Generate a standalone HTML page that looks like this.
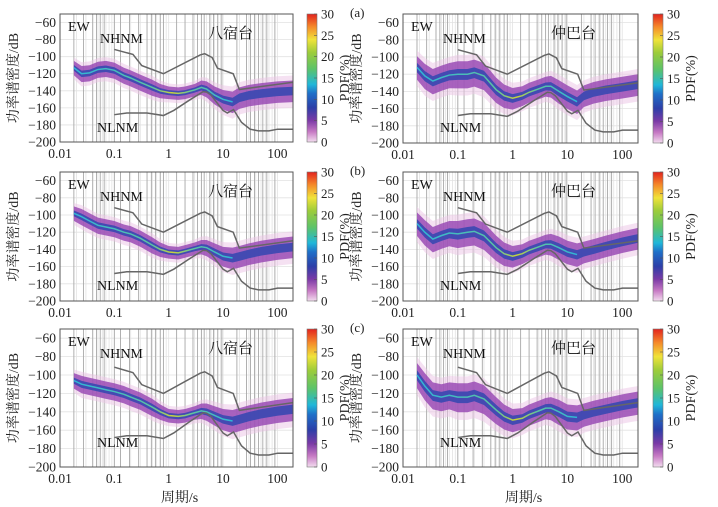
<!DOCTYPE html>
<html><head><meta charset="utf-8">
<style>
html,body{margin:0;padding:0;background:#fff;}
svg{display:block;font-family:"Liberation Serif","Noto Serif CJK SC","Noto Sans CJK SC",serif;}
</style></head>
<body>
<svg id="fig" width="718" height="507" viewBox="0 0 718 507" xmlns="http://www.w3.org/2000/svg">
<defs>
<linearGradient id="cbar" x1="0" y1="1" x2="0" y2="0">
<stop offset="0" stop-color="#f3dcef"/>
<stop offset="0.08" stop-color="#c77ac4"/>
<stop offset="0.17" stop-color="#7a3aa6"/>
<stop offset="0.27" stop-color="#2c3fa8"/>
<stop offset="0.38" stop-color="#1f6fc8"/>
<stop offset="0.45" stop-color="#20b7d9"/>
<stop offset="0.57" stop-color="#5cc36a"/>
<stop offset="0.7" stop-color="#9dcc3a"/>
<stop offset="0.8" stop-color="#f0e33a"/>
<stop offset="0.9" stop-color="#f58a2a"/>
<stop offset="1" stop-color="#e2231e"/>
</linearGradient>
<linearGradient id="modeGrad" x1="0" y1="0" x2="1" y2="0">
<stop offset="0" stop-color="#2fb5d6"/>
<stop offset="0.5" stop-color="#5cc4a0"/>
<stop offset="0.62" stop-color="#c9d23a"/>
<stop offset="0.75" stop-color="#5cc4a0"/>
<stop offset="1" stop-color="#2fb5d6"/>
</linearGradient>
</defs>
</svg>
<script>
// ---- data ----
const periods = [0.018,0.025,0.035,0.05,0.07,0.1,0.15,0.2,0.3,0.5,0.7,1,1.5,2,3,4,5,7,10,15,20,30,50,100,194];
const modeA_L = [-113,-120,-119,-115,-114,-116,-122,-125,-130,-136,-140,-142,-143,-142,-139,-136,-138,-145,-150,-153,-148,-145,-143,-141,-140];
const modeA_R = [-112,-122,-128,-124,-121,-120,-120,-118,-122,-138,-145,-148,-145,-141,-137,-134,-134,-140,-146,-152,-145,-141,-138,-135,-132];
const modeB_L = [-98,-102,-107,-112,-114,-116,-120,-122,-127,-135,-140,-143,-144,-142,-139,-137,-138,-143,-148,-150,-148,-145,-142,-139,-137];
const modeB_R = [-110,-120,-128,-124,-121,-122,-120,-119,-124,-138,-145,-148,-145,-141,-137,-134,-134,-138,-143,-146,-143,-140,-136,-131,-127];
const modeC_L = [-106,-110,-112,-114,-116,-118,-121,-124,-128,-135,-140,-144,-145,-144,-141,-139,-140,-144,-148,-150,-148,-145,-142,-139,-137];
const modeC_R = [-100,-112,-122,-124,-122,-124,-124,-122,-126,-138,-145,-149,-147,-143,-139,-136,-136,-140,-145,-146,-143,-140,-137,-133,-130];
const halfWidthL = [8,9,9,9,9,9,9,9,9,9,8,7,7,7,7,8,9,10,11,12,12,12,12,12,12];
const halfWidthR = [13,14,14,14,14,15,15,15,15,14,13,12,11,11,11,11,12,13,13,13,12,12,12,12,12];
const nlnmP = [0.1,0.17,0.4,0.8,1.24,2.4,4.3,5,6,10,12,15.6,21.9,31.6,45,70,101,154,194];
const nlnmV = [-168,-166,-166,-169,-163,-151,-141,-141.5,-145,-163,-166,-162,-177,-185,-187,-187,-185,-185,-185];
const nhnmP = [0.1,0.22,0.32,0.8,3.8,4.6,6.3,7.9,15.4,20,194];
const nhnmV = [-91.5,-97.4,-110.5,-120,-98,-96.5,-101,-113.5,-120,-138.5,-130];
const yTicks = [-60,-80,-100,-120,-140,-160,-180,-200];
const xTicks = [0.01,0.1,1,10,100];
const xTickLabels = ["0.01","0.1","1","10","100"];
const cbTicks = [0,5,10,15,20,25,30];
const binPeriods = [0.018,0.027,0.04,0.047,0.055,0.065,0.1,0.13,0.19,0.28,0.4,0.48,0.57,0.7,0.8,1.4,2,2.8,3.4,4,4.5,5.7,6.7,8,9.5,18,27,32,38,45,54,64,90];
const panels = [
 {id:'a-left', x0:60,x1:293,y0:14,y1:142,mode:modeA_L,hw:halfWidthL,st:'八宿台',cb:307,lab:'(a)'},
 {id:'a-right',x0:403,x1:638,y0:14,y1:143,mode:modeA_R,hw:halfWidthR,st:'仲巴台',cb:653,lab:null},
 {id:'b-left', x0:60,x1:293,y0:172,y1:301,mode:modeB_L,hw:halfWidthL,st:'八宿台',cb:307,lab:'(b)'},
 {id:'b-right',x0:403,x1:638,y0:172,y1:301,mode:modeB_R,hw:halfWidthR,st:'仲巴台',cb:653,lab:null},
 {id:'c-left', x0:60,x1:293,y0:329,y1:467,mode:modeC_L,hw:halfWidthL,st:'八宿台',cb:307,lab:'(c)'},
 {id:'c-right',x0:403,x1:638,y0:329,y1:467,mode:modeC_R,hw:halfWidthR,st:'仲巴台',cb:653,lab:null}
];
const svg=document.getElementById('fig');
const NS='http://www.w3.org/2000/svg';
function mk(tag,attrs,parent,text){const e=document.createElementNS(NS,tag);for(const k in attrs)e.setAttribute(k,attrs[k]);if(text!==undefined)e.textContent=text;(parent||svg).appendChild(e);return e;}
const LMIN=-2, LMAX=Math.log10(194);
panels.forEach(p=>{
  const sx=v=>p.x0+(Math.log10(v)-LMIN)/(LMAX-LMIN)*(p.x1-p.x0);
  const sy=v=>p.y0+(-50-v)/150*(p.y1-p.y0);
  const g=mk('g',{});
  
  
  for(let d=-2;d<=2;d++)for(let m=1;m<10;m++){const v=m*Math.pow(10,d);if(v>194)continue;
    const l=mk('line',{x1:sx(v),x2:sx(v),y1:p.y0,y2:p.y1,stroke:'#e2e2e2','stroke-width':0.8},g);
    }
  yTicks.forEach(t=>{const l=mk('line',{x1:p.x0,x2:p.x1,y1:sy(t),y2:sy(t),stroke:'#e2e2e2','stroke-width':0.8},g);
    });
  binPeriods.forEach(v=>{const l=mk('line',{x1:sx(v),x2:sx(v),y1:p.y0,y2:p.y1,stroke:'#a8a8a8','stroke-width':0.9},g);
    });
  const band=(k,fill,op,name)=>{let up=[],lo=[];
    periods.forEach((v,i)=>{up.push(sx(v)+','+sy(p.mode[i]+p.hw[i]*k));lo.unshift(sx(v)+','+sy(p.mode[i]-p.hw[i]*k*1.1));});
    const e=mk('polygon',{points:up.concat(lo).join(' '),fill:fill,opacity:op},g);
    };
  band(1.5,'#ebc3e5',0.5,'pdf-faint-band');
  band(1.0,'#9a4bb5',0.85,'pdf-band');
  band(0.4,'#3346b0',0.85,'pdf-core-band');
  const mline=mk('polyline',{points:periods.filter(v=>v<=15).map((v,i)=>sx(v)+','+sy(p.mode[i])).join(' '),fill:'none',stroke:'url(#modeGrad)','stroke-width':1.5},g);
  
  const nl=mk('polyline',{points:nlnmP.map((v,i)=>sx(v)+','+sy(nlnmV[i])).join(' '),fill:'none',stroke:'#666','stroke-width':1.5},g);
  
  const nh=mk('polyline',{points:nhnmP.map((v,i)=>sx(v)+','+sy(nhnmV[i])).join(' '),fill:'none',stroke:'#666','stroke-width':1.5},g);
  
  const fr=mk('rect',{x:p.x0,y:p.y0,width:p.x1-p.x0,height:p.y1-p.y0,fill:'none',stroke:'#555','stroke-width':1},g);
  
  yTicks.forEach(t=>{const e=mk('text',{x:p.x0-4,y:sy(t)+4.5,'text-anchor':'end','font-size':13.5,fill:'#222'},g,'\u2212'+Math.abs(t));
    });
  xTicks.forEach((t,i)=>{const e=mk('text',{x:sx(t),y:p.y1+16,'text-anchor':'middle','font-size':13.5,fill:'#222'},g,xTickLabels[i]);
    });
  const yt=mk('text',{x:0,y:0,'text-anchor':'middle','font-size':14,fill:'#222',transform:`translate(${p.x0-42},${(p.y0+p.y1)/2}) rotate(-90)`},g,'功率谱密度/dB');
  
  const t1=mk('text',{x:p.x0+8,y:p.y0+17,'font-size':14,fill:'#111'},g,'EW');
  
  const t2=mk('text',{x:p.x0+40,y:p.y0+29,'font-size':14,fill:'#111'},g,'NHNM');
  
  const t3=mk('text',{x:p.x0+37,y:p.y0+118,'font-size':14,fill:'#111'},g,'NLNM');
  
  const t4=mk('text',{x:p.x0+148,y:p.y0+24,'font-size':15,fill:'#111'},g,p.st);
  
  const cb=mk('rect',{x:p.cb,y:p.y0,width:10,height:p.y1-p.y0,fill:'url(#cbar)',stroke:'#777','stroke-width':0.6},g);
  
  cbTicks.forEach(t=>{const yy=p.y1-(t/30)*(p.y1-p.y0);
    mk('line',{x1:p.cb+7,x2:p.cb+10,y1:yy,y2:yy,stroke:'#555','stroke-width':0.6},g);
    const e=mk('text',{x:p.cb+14,y:yy+4.5,'font-size':13,fill:'#222'},g,String(t));
    });
  const ct=mk('text',{x:0,y:0,'text-anchor':'middle','font-size':14,fill:'#222',transform:`translate(${p.cb+42},${(p.y0+p.y1)/2}) rotate(-90)`},g,'PDF(%)');
  
  if(p.lab){const e=mk('text',{x:350,y:p.y0+3,'font-size':13,fill:'#222'},g,p.lab);
    }
  if(p.id.startsWith('c')){const e=mk('text',{x:(p.x0+p.x1)/2+3,y:p.y1+35,'text-anchor':'middle','font-size':14,fill:'#222'},g,'周期/s');
    }
});
</script>
</body></html>
